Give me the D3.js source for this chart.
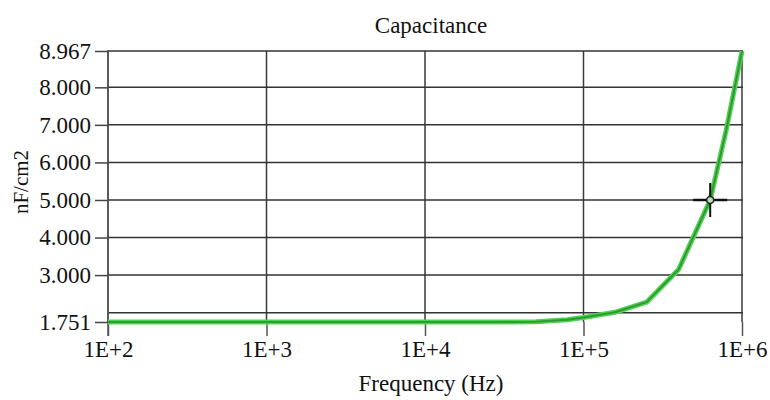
<!DOCTYPE html>
<html><head><meta charset="utf-8">
<script src="https://cdn.jsdelivr.net/npm/d3@7"></script>
<style>body{margin:0;background:#fff}svg{display:block}
svg text{font-family:"Liberation Serif","Times New Roman",Times,serif !important;}</style>
</head><body>
<svg id="c" width="770" height="400"></svg>
<script>
const frequencies = [1e2, 1e3, 1e4, 3e4, 5e4, 7.9e4, 1e5, 1.58e5, 2.5e5, 3.98e5, 6.3e5, 7.94e5, 1e6];
const capacitance = [1.751, 1.751, 1.751, 1.752, 1.76, 1.81, 1.87, 2.01, 2.28, 3.15, 5.0, 6.85, 8.967];
const xTicks = [1e2, 1e3, 1e4, 1e5, 1e6];
const xTickLabels = ["1E+2", "1E+3", "1E+4", "1E+5", "1E+6"];
const yTicks = [1.751, 3, 4, 5, 6, 7, 8, 8.967];
const yGrid = [2, 3, 4, 5, 6, 7, 8, 8.967];
const cursorPoint = {f: 6.3e5, v: 5.0};
const title = "Capacitance", xTitle = "Frequency (Hz)", yTitle = "nF/cm2";

const svg = d3.select("#c");
const x = d3.scaleLog().domain([1e2, 1e6]).range([108, 742]);
const y = d3.scaleLinear().domain([1.751, 8.967]).range([322, 51]);

// vertical gridlines
svg.append("g").selectAll("line").data(xTicks).join("line")
  .attr("x1", d => x(d)).attr("x2", d => x(d)).attr("y1", y(8.967)).attr("y2", y(1.751))
  .attr("stroke", "#3a3a3a").attr("stroke-width", 1.5);
// horizontal gridlines
svg.append("g").selectAll("line").data(yGrid).join("line")
  .attr("x1", 108).attr("x2", 743).attr("y1", d => y(d)).attr("y2", d => y(d))
  .attr("stroke", "#333").attr("stroke-width", 1.5);

// y axis
const yAxis = d3.axisLeft(y).tickValues(yTicks).tickFormat(d3.format(".3f")).tickSizeInner(13).tickSizeOuter(0).tickPadding(4);
const gy = svg.append("g").attr("transform", "translate(108,0)").call(yAxis);
gy.select(".domain").attr("stroke", "#555").attr("stroke-width", 1.5).attr("d", "M0,50V336");
gy.selectAll(".tick line").attr("stroke", "#444").attr("stroke-width", 1.5);
gy.selectAll("text").attr("font-size", 23).attr("fill", "#111");

// x axis
const xAxis = d3.axisBottom(x).tickValues(xTicks).tickFormat((d, i) => xTickLabels[i]).tickSizeInner(14).tickSizeOuter(0).tickPadding(5);
const gx = svg.append("g").attr("transform", "translate(0,322)").call(xAxis);
gx.select(".domain").remove();
gx.selectAll(".tick line").attr("stroke", "#555").attr("stroke-width", 1.5);
gx.selectAll("text").attr("font-size", 23).attr("fill", "#111");

// line
const line = d3.line().x((d, i) => x(frequencies[i])).y(d => y(d));
svg.append("path").datum(capacitance).attr("d", line).attr("fill", "none")
  .attr("stroke", "#4fd24f").attr("stroke-width", 5).attr("stroke-linejoin", "round");
svg.append("path").datum(capacitance).attr("d", line).attr("fill", "none")
  .attr("stroke", "#2f9a34").attr("stroke-width", 2).attr("stroke-linejoin", "round");

// cursor crosshair
const cx = x(cursorPoint.f), cy = y(cursorPoint.v);
const cur = svg.append("g");
cur.append("line").attr("x1", cx - 17).attr("x2", cx + 17).attr("y1", cy).attr("y2", cy).attr("stroke", "#111").attr("stroke-width", 2.5);
cur.append("line").attr("x1", cx).attr("x2", cx).attr("y1", cy - 17).attr("y2", cy + 17).attr("stroke", "#111").attr("stroke-width", 2);
cur.append("circle").attr("cx", cx).attr("cy", cy).attr("r", 3.5).attr("fill", "#b8e0b8").attr("stroke", "#222").attr("stroke-width", 1.5);

// titles
svg.append("text").attr("x", 431).attr("y", 33).attr("text-anchor", "middle")
  .attr("font-size", 23).attr("fill", "#111").text(title);
svg.append("text").attr("x", 431).attr("y", 391).attr("text-anchor", "middle")
  .attr("font-size", 23).attr("fill", "#111").text(xTitle);
svg.append("text").attr("transform", "translate(28,182) rotate(-90)").attr("text-anchor", "middle")
  .attr("font-size", 21).attr("fill", "#111").text(yTitle);
</script>
</body></html>
